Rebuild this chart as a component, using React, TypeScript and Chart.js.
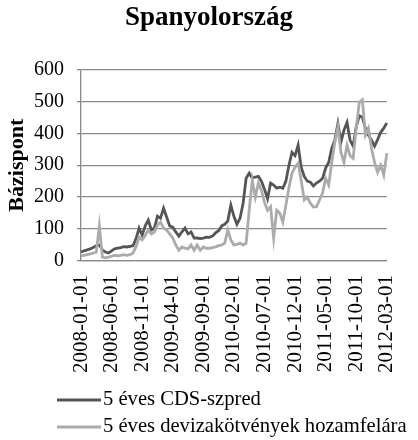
import React, { useEffect, useRef } from "react";
import { Chart, registerables } from "chart.js";

Chart.register(...registerables);

const TITLE = "Spanyolország";
const Y_TITLE = "Bázispont";
const SERIES_NAMES = ["5 éves CDS-szpred", "5 éves devizakötvények hozamfelára"];
const TICK_LABELS = [
  "2008-01-01", "2008-06-01", "2008-11-01", "2009-04-01", "2009-09-01", "2010-02-01",
  "2010-07-01", "2010-12-01", "2011-05-01", "2011-10-01", "2012-03-01",
];
const Y_TICKS = [0, 100, 200, 300, 400, 500, 600];

// semi-monthly observations from 2008-01-01 to 2012-03-01
const CATEGORIES: string[] = [];
for (let i = 0; i <= 100; i++) {
  const mIdx = Math.floor(i / 2);
  const y = 2008 + Math.floor(mIdx / 12);
  const m = (mIdx % 12) + 1;
  const d = i % 2 === 0 ? "01" : "16";
  CATEGORIES.push(`${y}-${String(m).padStart(2, "0")}-${d}`);
}

const CDS = [
  28, 32, 35, 38, 42, 48, 50, 35, 28, 25,
  32, 38, 40, 42, 45, 44, 46, 48, 70, 103,
  81, 110, 128, 97, 103, 140, 134, 165, 138, 110,
  106, 91, 78, 91, 103, 85, 91, 72, 72, 70,
  72, 75, 74, 78, 88, 95, 110, 115, 125, 175,
  140, 115, 134, 180, 259, 275, 260, 263, 265, 250,
  225, 195, 244, 238, 228, 231, 228, 250, 300, 340,
  330, 363, 294, 265, 250, 247, 235, 244, 250, 259,
  291, 309, 353, 378, 430, 372, 410, 434, 378, 360,
  420, 455, 450, 416, 394, 378, 360, 380, 403, 416,
  432,
];

const BOND = [
  15, 18, 20, 22, 25, 28, 110, 12, 10, 12,
  15, 18, 16, 18, 20, 18, 20, 25, 45, 75,
  66, 80, 97, 85, 91, 112, 122, 103, 97, 85,
  72, 50, 34, 44, 40, 38, 50, 34, 50, 34,
  44, 40, 40, 42, 44, 48, 50, 56, 97, 66,
  50, 52, 56, 50, 56, 159, 253, 200, 244, 222,
  184, 159, 170, 72, 159, 150, 122, 175, 230, 275,
  294, 306, 253, 191, 200, 181, 169, 170, 191, 213,
  259, 238, 309, 372, 420, 341, 309, 363, 330, 322,
  416, 497, 505, 394, 416, 353, 309, 278, 300, 269,
  338,
];

const COLORS = ["#555555", "#ababab"];
const FONT_FAMILY = "'Liberation Serif', 'Times New Roman', serif";

const legendPlugin = {
  id: "bottomLegend",
  afterDraw(chart: any) {
    const ctx = chart.ctx;
    const rows = [400, 427];
    ctx.save();
    chart.data.datasets.forEach((ds: any, i: number) => {
      const y = rows[i];
      ctx.strokeStyle = ds.borderColor;
      ctx.lineWidth = 3;
      ctx.beginPath();
      ctx.moveTo(57, y);
      ctx.lineTo(101, y);
      ctx.stroke();
      ctx.fillStyle = "#000";
      ctx.font = `20.6px ${FONT_FAMILY}`;
      ctx.textBaseline = "middle";
      ctx.textAlign = "left";
      ctx.fillText(ds.label, 103, y);
    });
    ctx.restore();
  },
};

export default function App() {
  const ref = useRef<HTMLCanvasElement | null>(null);
  useEffect(() => {
    if (!ref.current) return;
    const chart = new Chart(ref.current, {
      type: "line",
      data: {
        labels: CATEGORIES,
        datasets: [
          {
            label: SERIES_NAMES[0],
            data: CDS,
            borderColor: COLORS[0],
            backgroundColor: COLORS[0],
            borderWidth: 2.8,
            pointRadius: 0,
            tension: 0,
            order: 2,
          },
          {
            label: SERIES_NAMES[1],
            data: BOND,
            borderColor: COLORS[1],
            backgroundColor: COLORS[1],
            borderWidth: 2.8,
            pointRadius: 0,
            tension: 0,
            order: 1,
          },
        ],
      },
      options: {
        animation: false,
        responsive: true,
        maintainAspectRatio: false,
        layout: { padding: { left: 2, right: 2, top: 0, bottom: 61 } },
        plugins: {
          legend: { display: false },
          tooltip: { enabled: false },
          title: {
            display: true,
            text: TITLE,
            color: "#000",
            font: { family: FONT_FAMILY, size: 27, weight: "bold" },
            padding: { top: 2, bottom: 35 },
          },
        },
        scales: {
          x: {
            type: "category",
            offset: false,
            grid: { display: false },
            border: { display: true, color: "#8a8a8a", width: 1.3 },
            ticks: {
              autoSkip: false,
              maxRotation: 90,
              minRotation: 90,
              padding: 6,
              color: "#000",
              font: { family: FONT_FAMILY, size: 21 },
              callback: (_v: any, idx: number) =>
                TICK_LABELS.includes(CATEGORIES[idx]) ? CATEGORIES[idx] : "",
            },
          },
          y: {
            min: Y_TICKS[0],
            max: Y_TICKS[Y_TICKS.length - 1],
            afterFit: (scale: any) => {
              scale.width = 79;
            },
            grid: { color: "#8a8a8a", lineWidth: 1.3, tickLength: 4, drawTicks: true },
            border: { display: true, color: "#8a8a8a", width: 1.3 },
            ticks: {
              stepSize: 100,
              padding: 13,
              color: "#000",
              font: { family: FONT_FAMILY, size: 20 },
            },
            title: {
              display: true,
              text: Y_TITLE,
              color: "#000",
              font: { family: FONT_FAMILY, size: 22, weight: "bold" },
              padding: { top: 2, bottom: 0 },
            },
          },
        },
      },
      plugins: [legendPlugin],
    });
    return () => chart.destroy();
  }, []);
  return (
    <div style={{ position: "absolute", left: 0, top: 0, width: 418, height: 440, background: "#fff" }}>
      <canvas ref={ref} />
    </div>
  );
}
